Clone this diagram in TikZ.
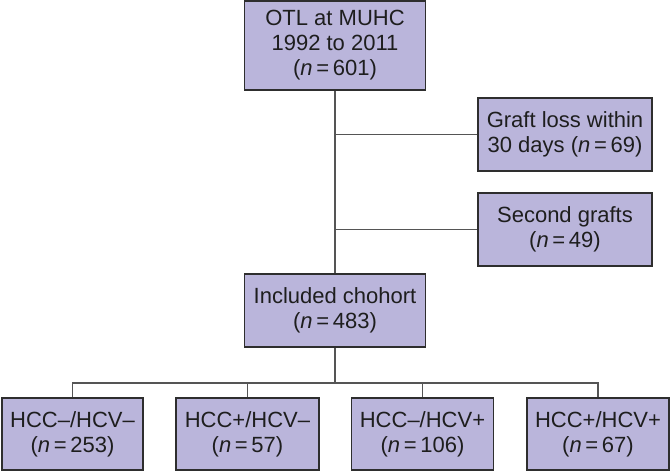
\documentclass[tikz,border=0pt]{standalone}
\usepackage{fontspec}
\setmainfont{Liberation Sans}
\definecolor{boxfill}{HTML}{BAB5DB}
\definecolor{boxline}{HTML}{2E2E2E}
\definecolor{conn}{HTML}{555555}
\definecolor{txt}{HTML}{1E1E1E}
\begin{document}
\begin{tikzpicture}[x=1pt,y=-1pt,
  flowbox/.style={draw=boxline, line width=1.3pt, fill=boxfill, text=txt,
    align=center, inner sep=0pt, font=\fontsize{22}{25}\selectfont},
  link/.style={draw=conn, line width=1.2pt}]
\useasboundingbox (0,0) rectangle (670,472);
\node[flowbox, minimum width=181pt, minimum height=89pt] (top) at (335,45.5)
  {OTL at MUHC\\1992 to 2011\\(\textit{n}\,=\,601)};
\node[flowbox, minimum width=174pt, minimum height=73pt] (graft) at (565,134.5)
  {Graft loss within\\30 days (\textit{n}\,=\,69)};
\node[flowbox, minimum width=174pt, minimum height=73pt] (second) at (565,229.5)
  {Second grafts\\(\textit{n}\,=\,49)};
\node[flowbox, minimum width=181pt, minimum height=73pt] (incl) at (335,310.5)
  {Included chohort\\(\textit{n}\,=\,483)};
\node[flowbox, minimum width=141pt, minimum height=72pt] (b1) at (72.5,434)
  {HCC\textendash/HCV\textendash\\(\textit{n}\,=\,253)};
\node[flowbox, minimum width=143pt, minimum height=72pt] (b2) at (247.5,434)
  {HCC+/HCV\textendash\\(\textit{n}\,=\,57)};
\node[flowbox, minimum width=142pt, minimum height=72pt] (b3) at (422.5,434)
  {HCC\textendash/HCV+\\(\textit{n}\,=\,106)};
\node[flowbox, minimum width=142pt, minimum height=72pt] (b4) at (598,434)
  {HCC+/HCV+\\(\textit{n}\,=\,67)};
\coordinate (j1) at (335,134.5);
\coordinate (j2) at (335,229.5);
\coordinate (split) at (335,383);
\draw[link] (top.south) -- (incl.north);
\draw[link] (j1) -- (graft.west);
\draw[link] (j2) -- (second.west);
\draw[link] (incl.south) -- (split);
\draw[link] (b1.north) |- (split) -| (b4.north);
\draw[link] (b2.north) -- (b2.north |- split);
\draw[link] (b3.north) -- (b3.north |- split);
\end{tikzpicture}
\end{document}
